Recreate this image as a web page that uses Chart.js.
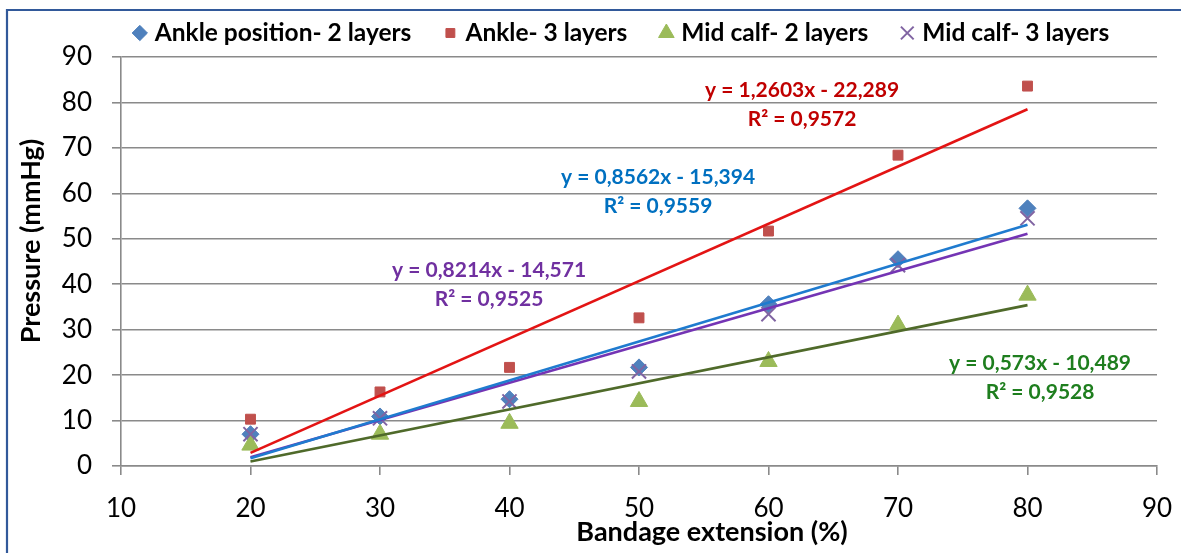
<!DOCTYPE html>
<html><head><meta charset="utf-8">
<script src="https://cdn.jsdelivr.net/npm/chart.js@4.4.1/dist/chart.umd.min.js"></script>
<style>html,body{margin:0;padding:0;background:#fff;}canvas{display:block;}</style>
</head><body>
<canvas id="c" width="1181" height="553"></canvas>
<script>
// ---- data ----
const seriesNames = ['Ankle position- 2 layers', 'Ankle- 3 layers', 'Mid calf- 2 layers', 'Mid calf- 3 layers'];
const extension = [20, 30, 40, 50, 60, 70, 80];
const ankle2 = [7.0, 10.9, 14.7, 21.7, 35.6, 45.5, 56.7];
const ankle3 = [10.3, 16.3, 21.7, 32.6, 51.7, 68.4, 83.6];
const calf2 = [4.6, 7.0, 9.4, 14.2, 23.0, 31.0, 37.6];
const calf3 = [7.0, 10.5, 14.2, 20.8, 33.4, 44.2, 54.5];
const trendX = [20, 80];
const trendAnkle2 = [1.7, 53.1];
const trendAnkle3 = [2.9, 78.5];
const trendCalf2 = [1.0, 35.4];
const trendCalf3 = [1.9, 51.1];
const eqTexts = ['y = 0,8562x - 15,394', 'y = 1,2603x - 22,289', 'y = 0,573x - 10,489', 'y = 0,8214x - 14,571'];
const r2Texts = ['R² = 0,9559', 'R² = 0,9572', 'R² = 0,9528', 'R² = 0,9525'];
const xTickValues = [10, 20, 30, 40, 50, 60, 70, 80, 90];
const yTickValues = [0, 10, 20, 30, 40, 50, 60, 70, 80, 90];
const xTitle = 'Bandage extension (%)';
const yTitle = 'Pressure (mmHg)';

const FONT = 'Lato';
const pts = (xs, ys) => xs.map((x, i) => ({x, y: ys[i]}));

const markerSets = [
  {label: seriesNames[0], data: pts(extension, ankle2), pointStyle: 'rectRot', pointRadius: 8.5, backgroundColor: '#4F81BD', borderColor: '#4F81BD', borderWidth: 1, order: 4},
  {label: seriesNames[1], data: pts(extension, ankle3), pointStyle: 'rect', pointRadius: 7, backgroundColor: '#C0504D', borderColor: '#C0504D', borderWidth: 1, order: 3},
  {label: seriesNames[2], data: pts(extension, calf2), pointStyle: 'triangle', pointRadius: 10, backgroundColor: '#9BBB59', borderColor: '#9BBB59', borderWidth: 1, order: 2},
  {label: seriesNames[3], data: pts(extension, calf3), pointStyle: 'crossRot', pointRadius: 10, backgroundColor: '#8064A2', borderColor: '#8064A2', borderWidth: 2, order: 1}
].map(d => Object.assign(d, {showLine: false, legendItem: true, pointHoverRadius: d.pointRadius}));

const trendStyle = (data, color) => ({data: pts(trendX, data), showLine: true, borderColor: color, borderWidth: 2.6, pointRadius: 0, pointHoverRadius: 0, fill: false, order: 0});
const trendSets = [
  trendStyle(trendAnkle2, '#1F7BCF'),
  trendStyle(trendAnkle3, '#E31414'),
  trendStyle(trendCalf2, '#4F6A2A'),
  trendStyle(trendCalf3, '#7434B4')
];

const customDraw = {
  id: 'customDraw',
  beforeDraw(chart) {
    const ctx = chart.ctx;
    ctx.save();
    ctx.fillStyle = '#fff';
    ctx.fillRect(0, 0, chart.width, chart.height);
    ctx.strokeStyle = '#32599A';
    ctx.lineWidth = 2.2;
    ctx.beginPath();
    ctx.moveTo(7, chart.height);
    ctx.lineTo(7, 10);
    ctx.lineTo(chart.width, 10);
    ctx.stroke();
    ctx.restore();
  },
  afterDraw(chart, args, o) {
    const ctx = chart.ctx;
    const xs = chart.scales.x, ys = chart.scales.y;
    ctx.save();
    // equation labels
    ctx.font = `bold ${o.eqSize}px ${FONT}`;
    ctx.textAlign = 'center';
    ctx.textBaseline = 'middle';
    o.eqAnchors.forEach((a, i) => {
      const px = xs.getPixelForValue(a.x), py = ys.getPixelForValue(a.y);
      ctx.fillStyle = o.eqColors[i];
      ctx.fillText(eqTexts[i], px, py);
      ctx.fillText(r2Texts[i], px, py + o.eqLine);
    });
    // axis titles
    ctx.fillStyle = '#000';
    ctx.font = `bold ${o.titleSize}px ${FONT}`;
    ctx.fillText(xTitle, o.xTitlePos[0], o.xTitlePos[1]);
    ctx.save();
    ctx.translate(o.yTitlePos[0], o.yTitlePos[1]);
    ctx.rotate(-Math.PI / 2);
    ctx.fillText(yTitle, 0, 0);
    ctx.restore();
    // legend
    ctx.font = `bold ${o.legendSize}px ${FONT}`;
    ctx.textAlign = 'left';
    const items = chart.data.datasets.filter(d => d.legendItem);
    const widths = items.map(d => ctx.measureText(d.label).width);
    const total = o.half + widths.reduce((s, w) => s + o.gap + w, 0) + (items.length - 1) * o.spacing;
    let x = o.legendCenter - total / 2 + o.half;
    items.forEach((d, i) => {
      ctx.fillStyle = d.backgroundColor;
      ctx.strokeStyle = d.borderColor;
      ctx.lineWidth = d.borderWidth;
      Chart.helpers.drawPoint(ctx, {pointStyle: d.pointStyle, radius: d.pointRadius * 0.9, rotation: 0, borderWidth: d.borderWidth}, x, o.legendY);
      ctx.fillStyle = '#000';
      ctx.fillText(d.label, x + o.gap, o.legendY);
      x += o.gap + widths[i] + o.spacing;
    });
    ctx.restore();
  }
};

new Chart(document.getElementById('c'), {
  type: 'scatter',
  data: {datasets: [...markerSets, ...trendSets]},
  plugins: [customDraw],
  options: {
    responsive: false,
    animation: false,
    layout: {padding: {top: 57, left: 8, right: 24, bottom: 0}},
    plugins: {
      legend: {display: false},
      tooltip: {enabled: false},
      customDraw: {
        eqSize: 21, eqLine: 29,
        eqColors: ['#0070C0', '#C00000', '#1E7E1E', '#7030A0'],
        eqAnchors: [{x: 51.47, y: 63.45}, {x: 62.59, y: 82.6}, {x: 80.97, y: 22.6}, {x: 38.42, y: 43.13}],
        titleSize: 27,
        xTitlePos: [712, 532],
        yTitlePos: [31, 241],
        legendSize: 24.5, legendY: 33, legendCenter: 620.5, half: 8, gap: 15, spacing: 39
      }
    },
    scales: {
      x: {
        type: 'linear', min: 10, max: 90,
        afterFit(s) { s.height = 87; s.paddingLeft = 0; s.paddingRight = 0; },
        afterBuildTicks(s) { s.ticks = xTickValues.map(v => ({value: v})); },
        ticks: {font: {family: FONT, size: 26}, color: '#000', padding: 18, maxRotation: 0},
        grid: {drawOnChartArea: false, drawTicks: true, tickLength: 9, color: '#8a8a8a', lineWidth: 1.6},
        border: {color: '#8a8a8a', width: 1.6}
      },
      y: {
        type: 'linear', min: 0, max: 90,
        afterFit(s) { s.width = 113; s.paddingTop = 0; s.paddingBottom = 0; },
        afterBuildTicks(s) { s.ticks = yTickValues.map(v => ({value: v})); },
        ticks: {font: {family: FONT, size: 26}, color: '#000', padding: 20},
        grid: {drawTicks: true, tickLength: 9, color: '#8a8a8a', lineWidth: 1.6},
        border: {color: '#8a8a8a', width: 1.6}
      }
    }
  }
});
</script>
</body></html>
